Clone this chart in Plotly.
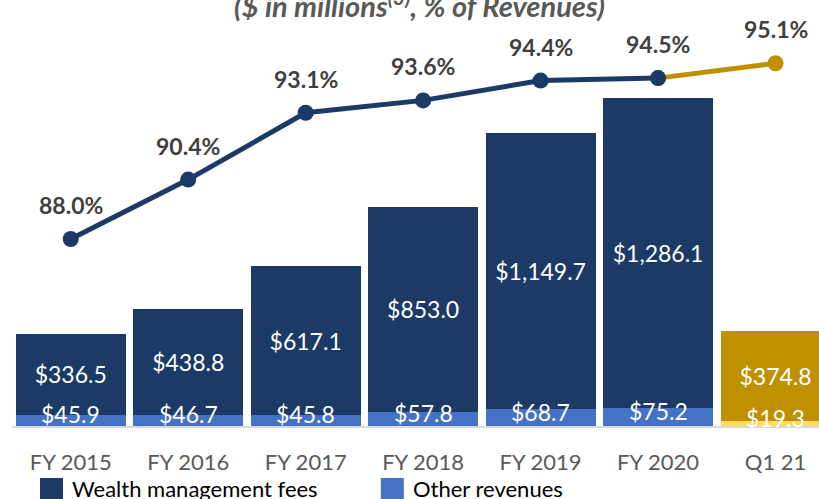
import plotly.graph_objects as go

# ── Data ─────────────────────────────────────────────
categories = ["FY 2015", "FY 2016", "FY 2017", "FY 2018", "FY 2019", "FY 2020", "Q1 21"]
wealth_fees = [336.5, 438.8, 617.1, 853.0, 1149.7, 1286.1, 374.8]
other_revenues = [45.9, 46.7, 45.8, 57.8, 68.7, 75.2, 19.3]
pct_of_revenue = [88.0, 90.4, 93.1, 93.6, 94.4, 94.5, 95.1]

# ── Colours ──────────────────────────────────────────
NAVY = "#1C3A66"
LIGHT_BLUE = "#4472C4"
GOLD = "#BF9000"
LIGHT_GOLD = "#FFD966"
GREY_TEXT = "#595959"
DARK_TEXT = "#404040"
FONT = "Lato"

fee_colors = [NAVY] * 6 + [GOLD]
other_colors = [LIGHT_BLUE] * 6 + [LIGHT_GOLD]

fig = go.Figure()

# ── Stacked bars ─────────────────────────────────────
fig.add_trace(go.Bar(
    x=categories, y=other_revenues,
    name="Other revenues",
    marker=dict(color=other_colors, line_width=0),
    showlegend=False,
))
fig.add_trace(go.Bar(
    x=categories, y=wealth_fees,
    name="Wealth management fees",
    marker=dict(color=fee_colors, line_width=0),
    texttemplate="$%{y:,.1f}",
    textposition="inside",
    insidetextanchor="middle",
    textangle=0,
    textfont=dict(color="white", size=23, family=FONT),
    showlegend=False,
))

# other revenue labels overflow the thin segment
for cat, val in zip(categories, other_revenues):
    fig.add_annotation(
        x=cat, y=val / 2, yref="y",
        text=f"${val:,.1f}", showarrow=False,
        yshift=6,
        font=dict(color="white", size=23, family=FONT),
    )

# ── % of revenues line ───────────────────────────────
fig.add_trace(go.Scatter(
    x=categories[5:], y=pct_of_revenue[5:],
    mode="lines+markers", yaxis="y2",
    line=dict(color=GOLD, width=5),
    marker=dict(color=GOLD, size=16),
    showlegend=False,
))
fig.add_trace(go.Scatter(
    x=categories[:6], y=pct_of_revenue[:6],
    mode="lines+markers", yaxis="y2",
    line=dict(color=NAVY, width=5),
    marker=dict(color=NAVY, size=16),
    showlegend=False,
))
for cat, pct in zip(categories, pct_of_revenue):
    fig.add_annotation(
        x=cat, y=pct, yref="y2",
        text=f"<b>{pct:.1f}%</b>", showarrow=False,
        yshift=34,
        font=dict(color=DARK_TEXT, size=23, family=FONT),
    )

# ── Title (clipped at the top like the source slide) ─
fig.add_annotation(
    x=0.505, y=1.0, xref="paper", yref="paper",
    xanchor="center", yanchor="bottom", yshift=-5,
    text="<b><i>($ in millions<sup>(3)</sup>, % of Revenues)</i></b>",
    showarrow=False,
    font=dict(color=GREY_TEXT, size=29, family=FONT),
)

# ── Manual legend with large square keys ─────────────
legend_items = [("Wealth management fees", NAVY, 0.0347), ("Other revenues", LIGHT_BLUE, 0.457)]
for label, color, x0 in legend_items:
    fig.add_shape(
        type="rect", xref="paper", yref="paper",
        x0=x0, x1=x0 + 0.0285, y0=-0.128, y1=-0.19,
        fillcolor=color, line_width=0,
    )
    fig.add_annotation(
        x=x0 + 0.037, y=-0.155, xref="paper", yref="paper",
        xanchor="left", yanchor="middle",
        text=label, showarrow=False,
        font=dict(color="#000000", size=22, family=FONT),
    )

# ── Layout ───────────────────────────────────────────
fig.update_layout(
    width=819, height=499,
    barmode="stack",
    bargap=0.064,
    paper_bgcolor="white",
    plot_bgcolor="white",
    font=dict(family=FONT, color=GREY_TEXT),
    margin=dict(l=12, r=0, t=20, b=73),
    xaxis=dict(
        range=[-0.5, 6.37],
        showline=True, linecolor="#D9D9D9", linewidth=1.5,
        showgrid=False, ticks="",
        tickfont=dict(size=22, color=GREY_TEXT, family=FONT),
        ticklabelstandoff=16,
    ),
    yaxis=dict(range=[0, 1687], visible=False),
    yaxis2=dict(range=[80.444, 96.848], overlaying="y", visible=False),
    showlegend=False,
)

# drop the browser's default body margin so the chart sits at the page corner
fig.write_html(
    "out.html",
    config={"displayModeBar": False},
    post_script="document.body.style.margin='0';",
)
